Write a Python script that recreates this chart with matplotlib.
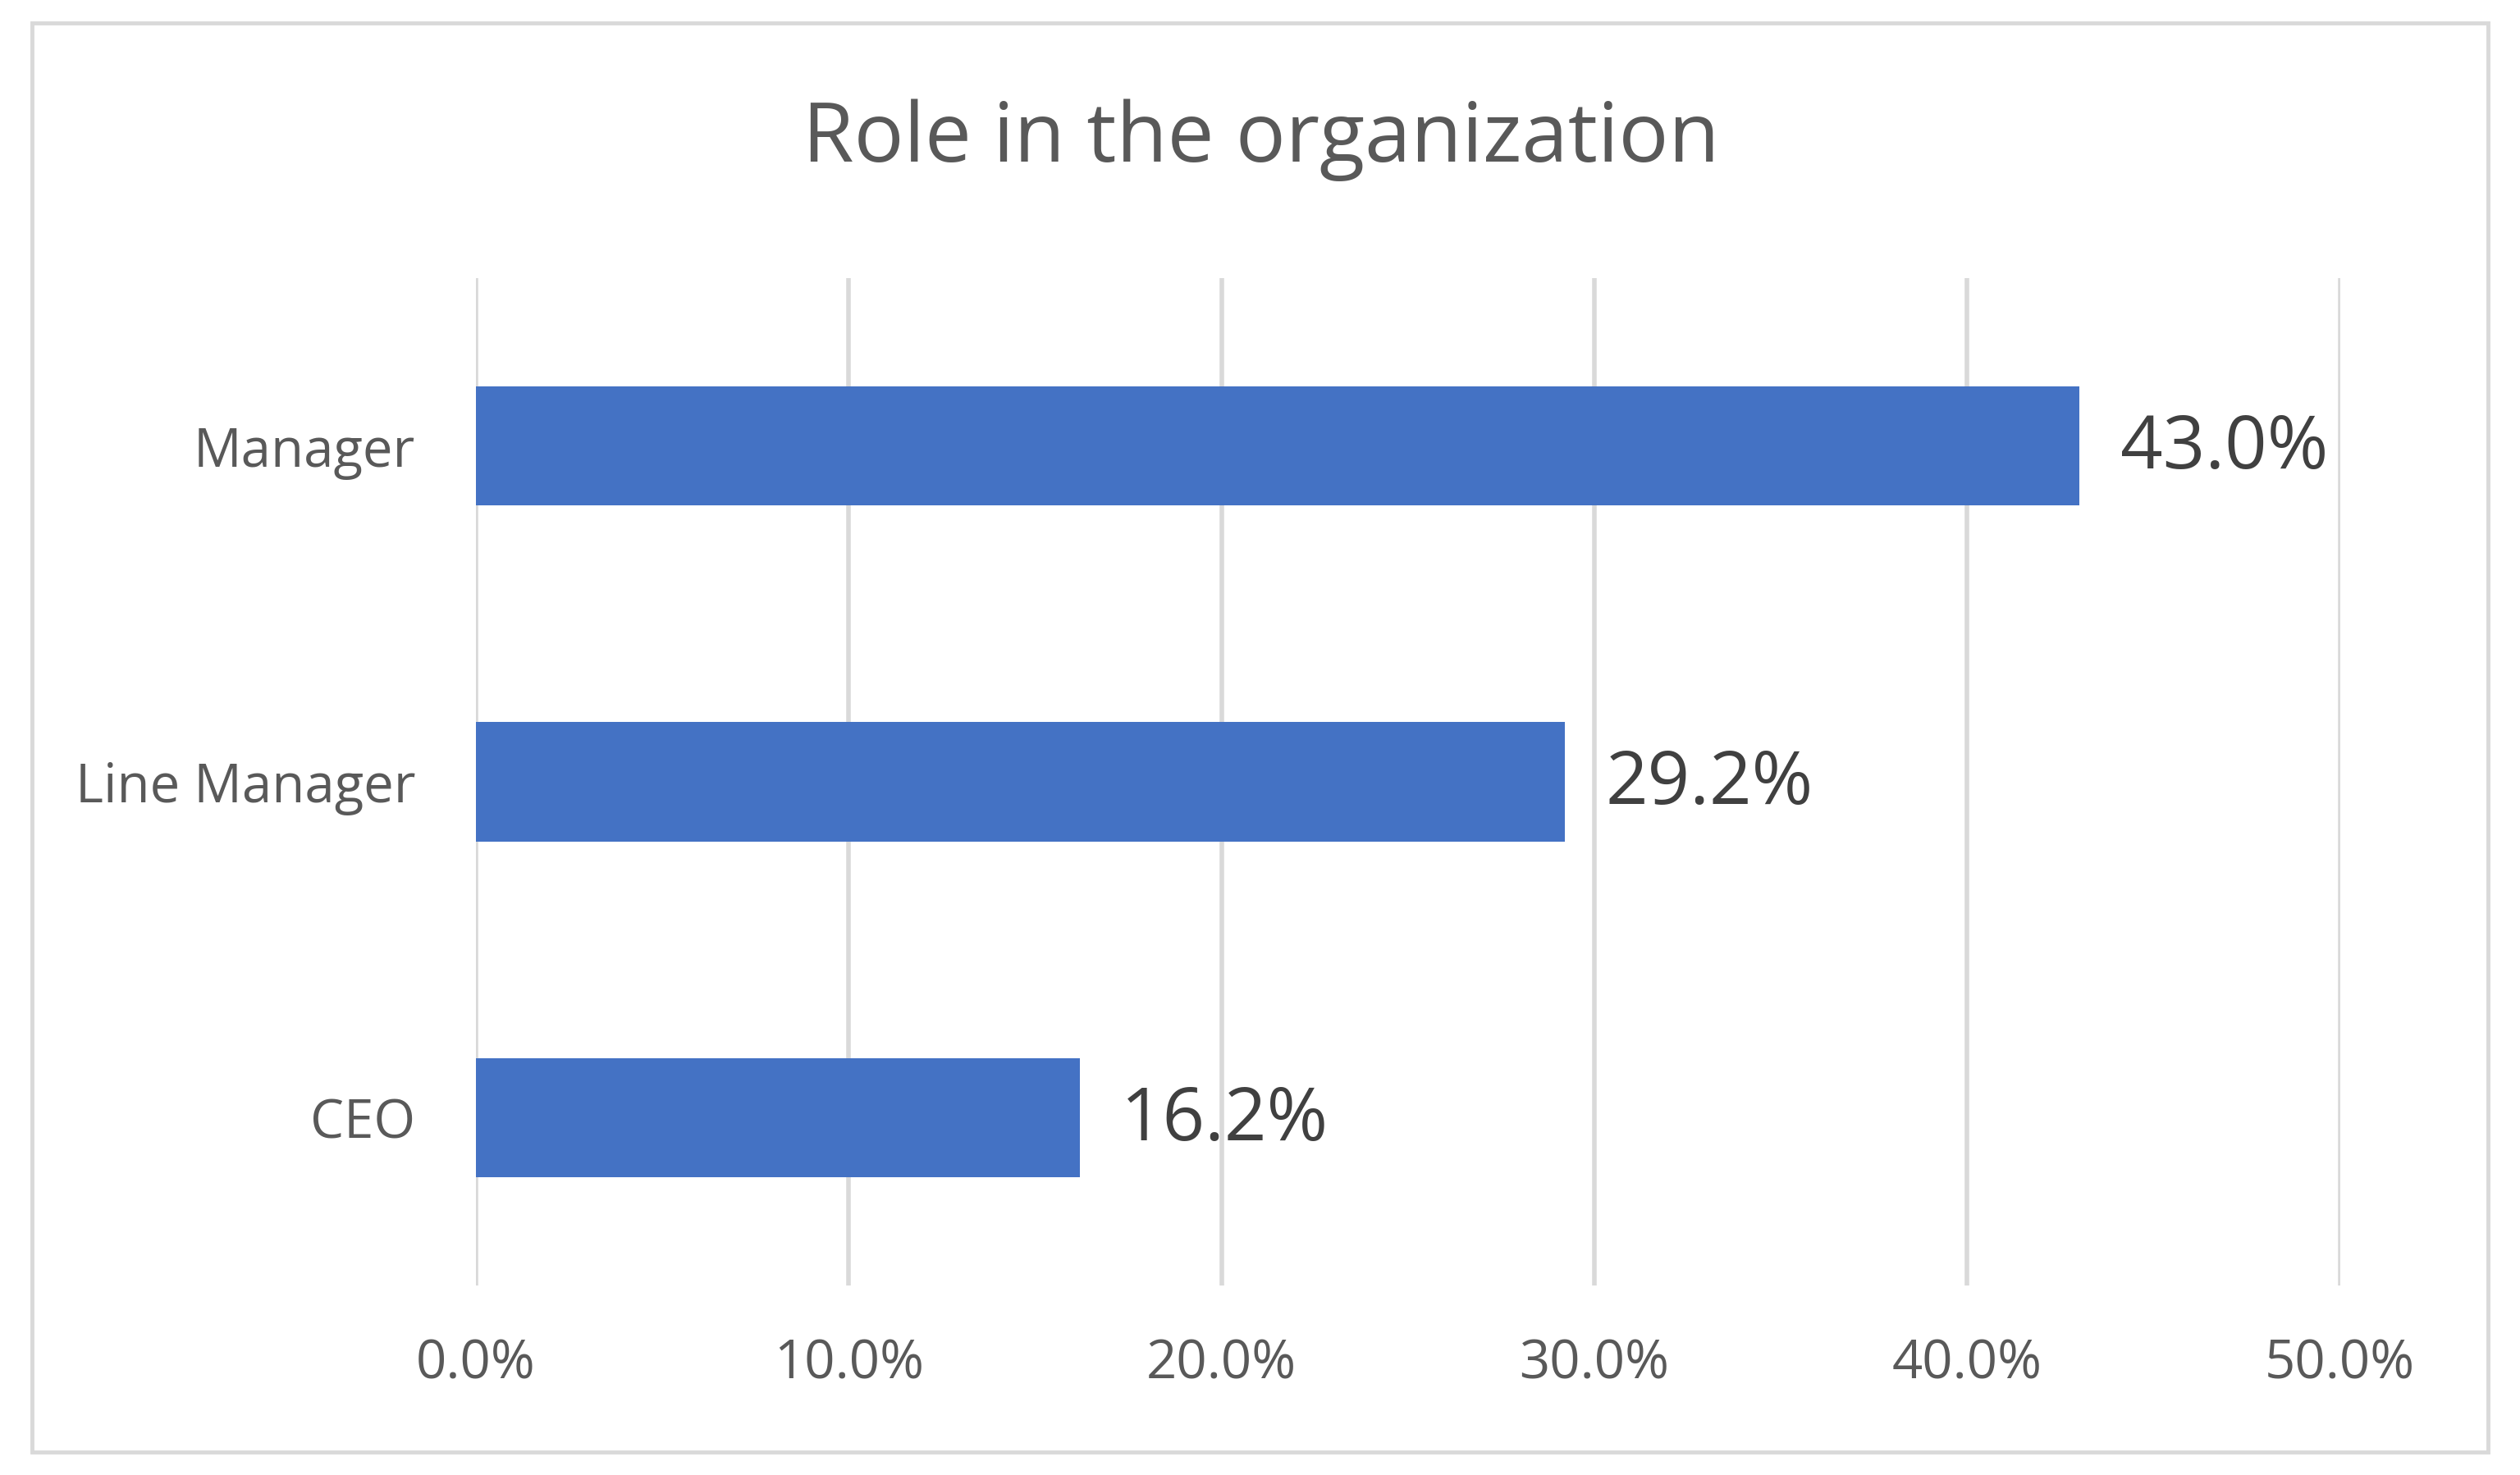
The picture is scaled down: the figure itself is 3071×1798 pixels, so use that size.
import matplotlib.pyplot as plt
from matplotlib.patches import Rectangle
from matplotlib.ticker import FuncFormatter

# data (bottom to top)
roles = ['CEO', 'Line Manager', 'Manager']
shares = [16.2, 29.2, 43.0]
x_ticks = [0, 10, 20, 30, 40, 50]

plt.rcParams['font.family'] = ['Open Sans', 'DejaVu Sans']

fig = plt.figure(figsize=(30.71, 17.98), dpi=100)
ax = fig.add_axes([0.1888, 0.1285, 0.7398, 0.683])

ax.barh(range(len(roles)), shares, height=0.355, color='#4472C4', zorder=3)
for i, v in enumerate(shares):
    ax.annotate('%.1f%%' % v, (v, i), xytext=(36, -3), textcoords='offset points',
                va='center', ha='left', fontsize=65, color='#404040')

ax.set_xlim(0, 50)
ax.set_ylim(-0.5, 2.5)
ax.set_xticks(x_ticks)
ax.xaxis.set_major_formatter(FuncFormatter(lambda x, p: '%.1f%%' % x))
ax.set_yticks(range(len(roles)))
ax.set_yticklabels(roles)
ax.tick_params(axis='both', length=0, labelsize=47, labelcolor='#595959')
ax.tick_params(axis='x', pad=46)
ax.tick_params(axis='y', pad=53)
ax.grid(axis='x', color='#D9D9D9', linewidth=4, zorder=0)
for s in ax.spines.values():
    s.set_visible(False)

fig.text(0.5003, 0.905, 'Role in the organization', ha='center', va='center',
         fontsize=73, color='#595959')

fig.patches.append(Rectangle((0.0127, 0.0155), 0.9745, 0.969, transform=fig.transFigure,
                             fill=False, edgecolor='#D9D9D9', linewidth=3.5))

fig.savefig('out.png', dpi=100, facecolor='white')
